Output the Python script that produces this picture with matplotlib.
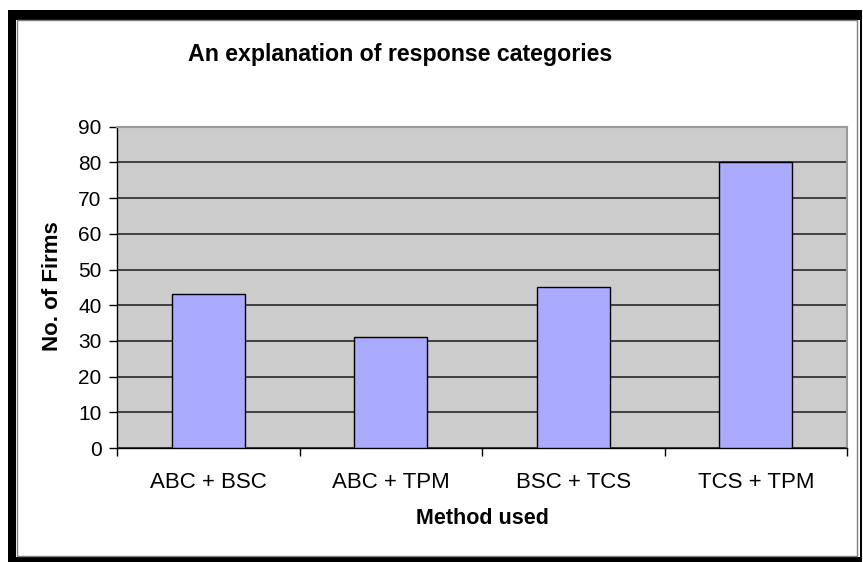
import matplotlib
matplotlib.use("Agg")
import matplotlib.pyplot as plt
from matplotlib.patches import Rectangle
import numpy as np

categories = ["ABC + BSC", "ABC + TPM", "BSC + TCS", "TCS + TPM"]
values = [43, 31, 45, 80]
yticks = [0, 10, 20, 30, 40, 50, 60, 70, 80, 90]

plt.rcParams['font.family'] = ['Liberation Sans', 'DejaVu Sans']

W, H = 863, 562
fig = plt.figure(figsize=(W / 100, H / 100), dpi=100)
fig.patch.set_facecolor('white')

def fx(px):
    return px / W

def fy(py):
    return 1 - py / H

def prect(x0, y0, x1, y1, color):
    fig.add_artist(Rectangle((fx(x0), fy(y1)), fx(x1) - fx(x0), fy(y0) - fy(y1),
                             transform=fig.transFigure, facecolor=color,
                             edgecolor='none', zorder=0))

prect(8, 10, 862, 20, 'black')      # top
prect(8, 10, 16, 562, 'black')      # left
prect(8, 557, 862, 562, 'black')    # bottom
prect(860, 10, 862, 562, 'black')   # right
fig.add_artist(Rectangle((fx(17), fy(556)), fx(857) - fx(17), fy(20) - fy(556),
                         transform=fig.transFigure, facecolor='none',
                         edgecolor='#808080', linewidth=1.0, zorder=1))

ax = fig.add_axes([fx(117), fy(448), fx(847) - fx(117), fy(126.7) - fy(448)])
ax.set_facecolor('#CCCCCC')
x = np.arange(len(categories))
ax.bar(x, values, width=0.4, color='#AAAAFF', edgecolor='black', linewidth=1.0, zorder=3)
ax.set_xlim(-0.5, len(categories) - 0.5)
ax.set_ylim(0, 90)
ax.set_yticks(yticks)
ax.yaxis.grid(True, color='#1a1a1a', linewidth=1.1, zorder=1)
ax.set_axisbelow(True)

ax.set_xticks(x)
ax.set_xticklabels(categories, fontsize=16)
ax.tick_params(axis='x', length=0, pad=17)
ax.set_xticks(np.arange(-0.5, len(categories)), minor=True)
ax.tick_params(axis='x', which='minor', length=6, width=1, direction='out', color='black')
ax.tick_params(axis='y', labelsize=15, length=6, width=1, direction='out', pad=5)

for s in ['left', 'bottom']:
    ax.spines[s].set_color('black')
    ax.spines[s].set_linewidth(1.0)
for s in ['top', 'right']:
    ax.spines[s].set_color('#999999')
    ax.spines[s].set_linewidth(1.5)

fig.text(fx(400), fy(54), "An explanation of response categories",
         fontsize=16.7, fontweight='bold', ha='center', va='center')
fig.text(fx(482), fy(519), "Method used", fontsize=15.5, fontweight='bold',
         ha='center', va='center')
fig.text(fx(53), fy(286), "No. of Firms", fontsize=16, fontweight='bold',
         ha='center', va='center', rotation=90)

fig.savefig("out.png", dpi=100, facecolor='white')
